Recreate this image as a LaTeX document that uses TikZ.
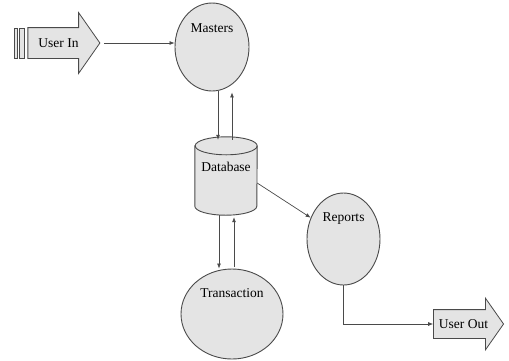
\documentclass[tikz,border=0pt]{standalone}
\usepackage{fontspec}
\setmainfont{Liberation Serif}
\usetikzlibrary{positioning,shapes.geometric,shapes.arrows,arrows.meta}
\definecolor{inkgray}{HTML}{4A4A4A}
\definecolor{shadefill}{HTML}{E4E4E4}
\tikzset{
  procbox/.style={ellipse, draw=inkgray, fill=shadefill, line width=0.9pt,
    inner sep=0pt},
  storebox/.style={rectangle, inner sep=0pt, minimum width=62pt,
    minimum height=78pt},
  storeline/.style={draw=inkgray, fill=shadefill, line width=0.9pt},
  iobox/.style={single arrow, single arrow tip angle=110,
    single arrow head indent=0pt, draw=inkgray, fill=shadefill,
    line width=0.8pt, text height=9pt, text depth=1pt, inner xsep=0pt,
    font=\fontsize{13.5}{15}\selectfont},
  boxlab/.style={font=\fontsize{13.5}{15}\selectfont, inner sep=0pt,
    anchor=base},
  barbox/.style={draw=inkgray, fill=shadefill, line width=0.8pt},
  flow/.style={-{Latex[length=5pt, width=4pt]}, line width=0.7pt, draw=inkgray},
}
\begin{document}
\begin{tikzpicture}[x=1pt, y=-1pt]
\useasboundingbox (0,0) rectangle (509,360);
% external entities
\node[iobox, inner ysep=10pt, single arrow head extend=15pt,
  minimum height=72pt] (userin) at (58.5,43) {User In};
\draw[barbox] (14,28) rectangle (17.5,58);
\draw[barbox] (19.5,28) rectangle (24.5,58);
\node[iobox, inner ysep=9pt, single arrow head extend=11.5pt,
  minimum height=70pt] (userout) at (463.5,324) {User Out};
% processes
\node[procbox, minimum width=74pt, minimum height=88pt] (masters) at (212,47) {};
\node[boxlab] (masterslab) at ([yshift=-30pt]masters.north) {Masters};
\node[procbox, minimum width=73pt, minimum height=92pt] (reports) at (343.5,239) {};
\node[boxlab] (reportslab) at ([yshift=-29pt]reports.north) {Reports};
\node[procbox, minimum width=102pt, minimum height=90pt] (trans) at (232,314) {};
\node[boxlab] (translab) at ([yshift=-29pt]trans.north) {Transaction};
% data store
\node[storebox] (db) at (226,176) {};
\draw[storeline] ([yshift=-9pt]db.north west) -- ([yshift=9pt]db.south west)
  arc[start angle=180, end angle=360, x radius=31pt, y radius=9pt]
  -- ([yshift=-9pt]db.north east)
  arc[start angle=0, end angle=180, x radius=31pt, y radius=9pt] -- cycle;
\draw[storeline, fill=none] ([yshift=-9pt]db.north east)
  arc[start angle=0, end angle=-180, x radius=31pt, y radius=9pt];
\node[boxlab] (dblab) at ([yshift=-35pt]db.north) {Database};
% data flows
\draw[flow] ([xshift=4pt]userin.tip) -- (userin.tip -| masters.west);
\draw[flow] ([xshift=-8pt]db.north |- masters.south) -- ([xshift=-8pt,yshift=-3pt]db.north);
\draw[flow] ([xshift=6pt,yshift=-3pt]db.north) -- ([xshift=6pt,yshift=-1pt]db.north |- masters.south);
\draw[flow] ([xshift=-7pt]db.south) -- ([xshift=-7pt]db.south |- trans.north);
\draw[flow] ([xshift=8pt,yshift=2pt]db.south |- trans.north) -- ([xshift=8pt,yshift=-2pt]db.south);
\draw[flow] ([yshift=-7pt]db.east) -- (reports);
\draw[flow] (reports.south) |- (userout.tail);
\end{tikzpicture}
\end{document}
